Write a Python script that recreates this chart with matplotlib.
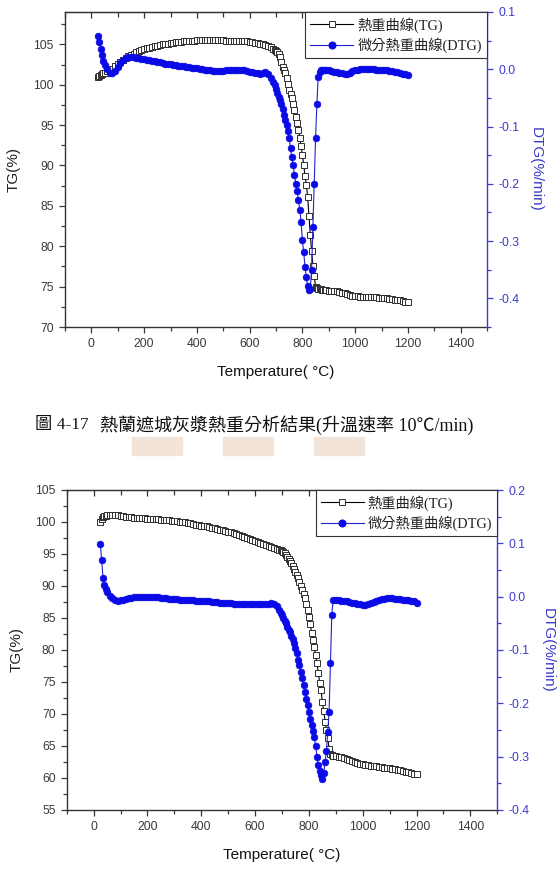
import matplotlib
matplotlib.use("Agg")
import matplotlib.pyplot as plt
from matplotlib.ticker import MultipleLocator, FormatStrFormatter
from matplotlib.lines import Line2D
from matplotlib.patches import Rectangle

plt.rcParams['font.family'] = ['Liberation Sans', 'Noto Sans CJK TC']
plt.rcParams['axes.unicode_minus'] = False

SERIF_CJK = ['Liberation Serif', 'Noto Sans CJK TC']

# temperature samples (deg C), shared by both runs
temp = [25, 30, 35, 40, 45, 50, 60, 70, 80, 90,
        100, 110, 120, 130, 140, 150, 160, 170, 180, 190,
        200, 210, 220, 230, 240, 250, 260, 270, 280, 290,
        300, 310, 320, 330, 340, 350, 360, 370, 380, 390,
        400, 410, 420, 430, 440, 450, 460, 470, 480, 490,
        500, 510, 520, 530, 540, 550, 560, 570, 580, 590,
        600, 610, 620, 630, 640, 650, 660, 670, 680, 690,
        695, 700, 705, 710, 715, 720, 725, 730, 735, 740,
        745, 750, 755, 760, 765, 770, 775, 780, 785, 790,
        795, 800, 805, 810, 815, 820, 825, 830, 835, 840,
        845, 850, 855, 860, 865, 870, 875, 880, 885, 890,
        900, 910, 920, 930, 940, 950, 960, 970, 980, 990,
        1000, 1010, 1020, 1030, 1040, 1050, 1060, 1070, 1080, 1090,
        1100, 1110, 1120, 1130, 1140, 1150, 1160, 1170, 1180, 1190,
        1200]

# upper chart
tg_1 = [101.0, 101.1, 101.2, 101.3, 101.4, 101.5, 101.65, 101.8, 102.0, 102.3,
        102.55, 102.8, 103.05, 103.3, 103.5, 103.7, 103.85, 104.0, 104.15, 104.3,
        104.4, 104.5, 104.6, 104.7, 104.8, 104.85, 104.95, 105.0, 105.05, 105.1,
        105.15, 105.2, 105.25, 105.3, 105.3, 105.35, 105.4, 105.4, 105.45, 105.45,
        105.5, 105.5, 105.5, 105.5, 105.5, 105.5, 105.5, 105.5, 105.5, 105.5,
        105.5, 105.45, 105.45, 105.45, 105.45, 105.4, 105.4, 105.4, 105.35, 105.35,
        105.3, 105.25, 105.2, 105.15, 105.1, 105.0, 104.9, 104.8, 104.65, 104.45,
        104.3, 104.15, 104.0, 103.8, 103.4, 102.8, 102.2, 101.8, 101.4, 100.85,
        100.1, 99.4, 98.9, 98.3, 97.65, 96.9, 96.05, 95.25, 94.45, 93.4,
        92.4, 91.35, 90.1, 88.7, 87.6, 86.1, 83.8, 81.4, 79.4, 77.5,
        76.3, 75.0, 74.8, 74.7, 74.7, 74.65, 74.6, 74.6, 74.55, 74.55,
        74.5, 74.5, 74.45, 74.4, 74.3, 74.25, 74.15, 74.05, 73.95, 73.85,
        73.8, 73.8, 73.75, 73.75, 73.75, 73.7, 73.7, 73.7, 73.7, 73.65,
        73.65, 73.6, 73.55, 73.5, 73.45, 73.4, 73.35, 73.3, 73.2, 73.15,
        73.05]

dtg_1 = [0.058, 0.048, 0.035, 0.025, 0.015, 0.008, 0.0, -0.006, -0.007, -0.003,
         0.004, 0.011, 0.016, 0.019, 0.021, 0.0215, 0.021, 0.02, 0.019, 0.018,
         0.0175, 0.017, 0.016, 0.015, 0.014, 0.013, 0.012, 0.011, 0.01, 0.0095,
         0.009, 0.008, 0.007, 0.0065, 0.006, 0.005, 0.0045, 0.004, 0.003, 0.002,
         0.0015, 0.001, 0.0, -0.001, -0.0015, -0.002, -0.0025, -0.003, -0.003, -0.003,
         -0.0025, -0.002, -0.002, -0.0015, -0.0015, -0.001, -0.001, -0.0015, -0.002, -0.003,
         -0.004, -0.005, -0.006, -0.007, -0.0075, -0.006, -0.005, -0.008, -0.015, -0.023,
         -0.028, -0.035, -0.042, -0.048, -0.053, -0.06, -0.07, -0.079, -0.088, -0.097,
         -0.107, -0.12, -0.138, -0.154, -0.168, -0.185, -0.2, -0.213, -0.228, -0.245,
         -0.266, -0.298, -0.319, -0.345, -0.363, -0.379, -0.386, -0.384, -0.35, -0.275,
         -0.2, -0.12, -0.06, -0.013, -0.004, -0.002, -0.002, -0.002, -0.002, -0.002,
         -0.002, -0.003, -0.004, -0.005, -0.006, -0.007, -0.0075, -0.008, -0.006, -0.003,
         -0.0015, -0.001, 0.0, 0.0005, 0.001, 0.001, 0.0005, 0.0, -0.0005, -0.001,
         -0.0012, -0.0015, -0.002, -0.0025, -0.003, -0.004, -0.005, -0.006, -0.008, -0.009,
         -0.010]

# lower chart
tg_2 = [100.0, 100.5, 100.8, 100.95, 101.0, 101.05, 101.1, 101.1, 101.1, 101.05,
        101.0, 100.95, 100.85, 100.8, 100.75, 100.7, 100.65, 100.6, 100.6, 100.55,
        100.5, 100.5, 100.45, 100.4, 100.4, 100.35, 100.3, 100.3, 100.25, 100.2,
        100.15, 100.1, 100.05, 100.0, 99.95, 99.9, 99.8, 99.7, 99.6, 99.5,
        99.45, 99.35, 99.3, 99.2, 99.1, 99.0, 98.9, 98.8, 98.7, 98.6,
        98.5, 98.4, 98.25, 98.1, 97.95, 97.8, 97.65, 97.5, 97.3, 97.15,
        97.0, 96.85, 96.7, 96.55, 96.4, 96.25, 96.1, 95.95, 95.8, 95.65,
        95.55, 95.45, 95.3, 95.1, 94.85, 94.55, 94.25, 93.95, 93.6, 93.15,
        92.7, 92.2, 91.7, 91.2, 90.65, 90.05, 89.45, 88.8, 88.15, 87.25,
        86.25, 85.1, 84.0, 82.7, 81.5, 80.4, 79.2, 77.9, 76.4, 74.9,
        73.75, 71.9, 70.4, 68.8, 67.5, 66.2, 64.6, 63.8, 63.6, 63.5,
        63.45, 63.35, 63.25, 63.1, 62.95, 62.8, 62.65, 62.5, 62.35, 62.25,
        62.15, 62.05, 62.0, 61.95, 61.9, 61.85, 61.75, 61.7, 61.6, 61.55,
        61.5, 61.45, 61.35, 61.3, 61.2, 61.1, 61.0, 60.9, 60.8, 60.7,
        60.6]

dtg_2 = [0.098, 0.068, 0.035, 0.022, 0.014, 0.009, 0.002, -0.003, -0.006, -0.0075,
         -0.007, -0.006, -0.0045, -0.003, -0.002, -0.0015, -0.001, -0.001, -0.001, -0.001,
         -0.001, -0.001, -0.001, -0.001, -0.0015, -0.002, -0.0025, -0.003, -0.0035, -0.004,
         -0.0045, -0.005, -0.0055, -0.006, -0.006, -0.0065, -0.007, -0.007, -0.0075, -0.0075,
         -0.008, -0.0085, -0.009, -0.009, -0.0095, -0.01, -0.0105, -0.011, -0.011, -0.0115,
         -0.012, -0.0125, -0.013, -0.013, -0.0135, -0.014, -0.014, -0.0145, -0.0145, -0.0145,
         -0.0145, -0.0145, -0.014, -0.014, -0.0135, -0.013, -0.0125, -0.013, -0.018, -0.025,
         -0.031, -0.035, -0.04, -0.045, -0.05, -0.056, -0.062, -0.067, -0.074, -0.08,
         -0.087, -0.096, -0.106, -0.118, -0.129, -0.141, -0.153, -0.166, -0.179, -0.191,
         -0.203, -0.216, -0.229, -0.241, -0.251, -0.263, -0.28, -0.3, -0.315, -0.326,
         -0.335, -0.341, -0.33, -0.31, -0.29, -0.253, -0.216, -0.125, -0.034, -0.006,
         -0.006, -0.007, -0.008, -0.008, -0.009, -0.0095, -0.011, -0.012, -0.013, -0.014,
         -0.015, -0.0155, -0.014, -0.012, -0.01, -0.009, -0.007, -0.005, -0.004, -0.003,
         -0.003, -0.003, -0.0035, -0.004, -0.005, -0.0055, -0.006, -0.007, -0.008, -0.009,
         -0.011]

legend_labels = ['熱重曲線(TG)', '微分熱重曲線(DTG)']
caption_no = '圖 4-17'
caption = '熱蘭遮城灰漿熱重分析結果(升溫速率 10℃/min)'

TICK_COLOR = '#3a3a3a'
BLUE = '#0a0ae6'
AXIS_BLUE = '#3b3bcc'


def panel(fig, rect, tg, dtg, tg_lim, tg_step, dtg_lim, lab_x):
    ax = fig.add_axes(rect)
    ax.plot(temp, tg, '-', color='black', lw=0.8, marker='s', ms=3.8,
            mfc='white', mec='#2e2e2e', mew=0.7)
    ax.set_xlim(-100, 1500)
    ax.set_ylim(*tg_lim)
    ax.xaxis.set_major_locator(MultipleLocator(200))
    ax.xaxis.set_minor_locator(MultipleLocator(100))
    ax.yaxis.set_major_locator(MultipleLocator(tg_step))
    ax.yaxis.set_minor_locator(MultipleLocator(tg_step / 2))
    ax.tick_params(which='both', direction='out', colors=TICK_COLOR,
                   labelsize=8.8, width=0.9, right=False, top=False)
    ax.tick_params(which='major', length=4.5)
    ax.tick_params(which='minor', length=2.8)
    for s in ['left', 'bottom', 'top']:
        ax.spines[s].set_color('#333333')
        ax.spines[s].set_linewidth(1.0)
    ax.spines['right'].set_visible(False)

    top = ax.secondary_xaxis('top')
    top.xaxis.set_major_locator(MultipleLocator(200))
    top.xaxis.set_minor_locator(MultipleLocator(100))
    top.tick_params(which='both', direction='in', labeltop=False,
                    colors='#333333', width=0.9)
    top.tick_params(which='major', length=4.5)
    top.tick_params(which='minor', length=3.5)
    top.spines['top'].set_color('#333333')

    axr = ax.twinx()
    axr.plot(temp, dtg, '-', color='#2222cc', lw=0.8, marker='o', ms=4.8,
             mfc=BLUE, mec=BLUE, mew=0.5)
    axr.set_ylim(*dtg_lim)
    axr.yaxis.set_major_locator(MultipleLocator(0.1))
    axr.yaxis.set_minor_locator(MultipleLocator(0.05))
    axr.yaxis.set_major_formatter(FormatStrFormatter('%.1f'))
    axr.tick_params(which='both', direction='out', colors=AXIS_BLUE,
                    labelsize=8.8, width=0.9)
    axr.tick_params(which='major', length=4.5)
    axr.tick_params(which='minor', length=2.8)
    for s in ['left', 'bottom', 'top']:
        axr.spines[s].set_visible(False)
    axr.spines['right'].set_color(AXIS_BLUE)
    axr.spines['right'].set_linewidth(1.0)

    ax.text(lab_x[0], 0.5, 'TG(%)', rotation=90, ha='center', va='center',
            transform=ax.transAxes, fontsize=11, color='#222222')
    ax.text(lab_x[1], 0.5, 'DTG(%/min)', rotation=-90, ha='center', va='center',
            transform=ax.transAxes, fontsize=11, color=AXIS_BLUE)
    ax.text(0.5, -0.142, 'Temperature( °C)', ha='center', va='center',
            transform=ax.transAxes, fontsize=11, color='#111111')

    handles = [Line2D([], [], color='black', lw=0.8, marker='s', ms=3.8,
                      mfc='white', mec='#2e2e2e', mew=0.7),
               Line2D([], [], color='#2222cc', lw=0.8, marker='o', ms=4.8,
                      mfc=BLUE, mec=BLUE)]
    leg = axr.legend(handles, legend_labels, loc='upper right', borderaxespad=0,
                     fancybox=False, edgecolor='#333333', framealpha=1,
                     handlelength=3.0, handletextpad=0.3, labelspacing=0.35,
                     borderpad=0.35, prop={'family': SERIF_CJK, 'size': 10.3})
    leg.get_frame().set_linewidth(0.8)
    for t in leg.get_texts():
        t.set_color('#222222')
    return ax, axr


def main():
    fig = plt.figure(figsize=(5.58, 8.76), dpi=100)
    W, H = 558.0, 876.0

    # faint watermark blocks behind the caption
    for x0 in [132, 223, 314]:
        fig.add_artist(Rectangle((x0 / W, 1 - 455 / H), 50 / W, 18 / H,
                                 transform=fig.transFigure, color='#f3e4da',
                                 zorder=0))

    panel(fig, [65 / W, 1 - 327 / H, 422 / W, 315 / H], tg_1, dtg_1,
          (70, 109), 5, (-0.45, 0.1), (-0.122, 1.116))
    panel(fig, [66.7 / W, 1 - 810 / H, 430.6 / W, 320 / H], tg_2, dtg_2,
          (55, 105), 5, (-0.4, 0.2), (-0.116, 1.118))

    fig.text(35 / W, 1 - 425 / H, caption_no, ha='left', va='center',
             fontsize=12.5, family=SERIF_CJK, color='#111111')
    fig.text(100 / W, 1 - 425 / H, caption, ha='left', va='center',
             fontsize=13, family=SERIF_CJK, color='#111111')

    fig.savefig('out.png', dpi=100, facecolor='white')


if __name__ == "__main__":
    main()
